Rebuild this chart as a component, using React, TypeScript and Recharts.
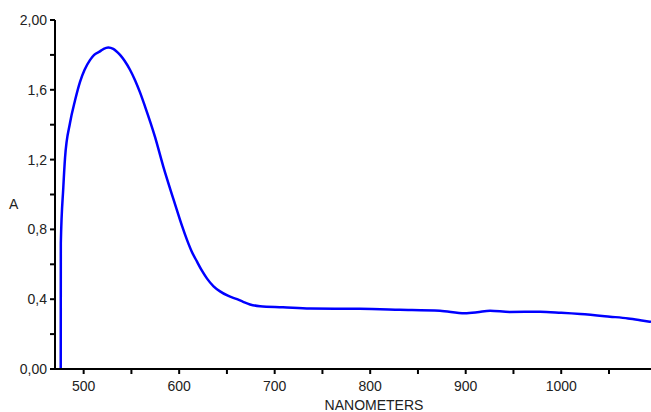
import React from 'react';
import { LineChart, Line, XAxis, YAxis, Label } from 'recharts';

const wavelengths = [476, 476.1, 478.7, 480.5, 485.7, 491, 496.2, 501, 506.6, 511, 517.1, 521, 525.8, 531, 538.1, 543, 548.5, 553.8, 559, 564.2, 574.7, 583.4, 593.9, 597.4, 603, 608.2, 613, 618.7, 624, 629.2, 636, 642.8, 651, 660.6, 667, 674.2, 684.7, 708.7, 737, 789, 831, 873, 899, 912, 925.5, 946, 978, 1000, 1020, 1051, 1070, 1082.6, 1094];
const absorbance = [0, 0.72, 1.04, 1.21, 1.41, 1.54, 1.646, 1.715, 1.77, 1.8, 1.82, 1.835, 1.843, 1.835, 1.80, 1.765, 1.715, 1.655, 1.585, 1.505, 1.33, 1.16, 0.975, 0.915, 0.82, 0.74, 0.675, 0.615, 0.562, 0.518, 0.474, 0.445, 0.42, 0.40, 0.385, 0.37, 0.36, 0.354, 0.346, 0.345, 0.34, 0.334, 0.32, 0.325, 0.334, 0.327, 0.328, 0.322, 0.315, 0.30, 0.29, 0.28, 0.27];

const xTicks = [500, 550, 600, 650, 700, 750, 800, 850, 900, 950, 1000, 1050];
const xTickLabels = ['500', '', '600', '', '700', '', '800', '', '900', '', '1000', ''];
const yTicks = [0, 0.2, 0.4, 0.6, 0.8, 1.0, 1.2, 1.4, 1.6, 1.8, 2.0];
const yTickLabels = ['0,00', '', '0,4', '', '0,8', '', '1,2', '', '1,6', '', '2,00'];

const data = wavelengths.map((nm, i) => ({ nm, a: absorbance[i] }));

const tickStyle = { fontFamily: 'Liberation Sans, Arial, sans-serif', fontSize: 14, fill: '#222' };

export default function App() {
  return (
    <div style={{ position: 'absolute', left: 0, top: 0 }}>
      <LineChart width={651} height={412} data={data} margin={{ top: 20, right: 0, left: 0, bottom: 0 }}>
        <XAxis
          type="number"
          dataKey="nm"
          domain={[470, 1094]}
          ticks={xTicks}
          tickFormatter={(v: number) => xTickLabels[xTicks.indexOf(v)] ?? ''}
          allowDataOverflow
          height={43}
          stroke="#000"
          strokeWidth={2}
          tickSize={5}
          tick={tickStyle}
          tickMargin={7}
          interval={0}
        >
          <Label value="NANOMETERS" position="insideBottom" offset={2} dx={21} style={{ ...tickStyle, fontSize: 14 }} />
        </XAxis>
        <YAxis
          type="number"
          domain={[0, 2]}
          ticks={yTicks}
          tickFormatter={(v: number) => {
            const idx = yTicks.findIndex((t) => Math.abs(t - v) < 1e-6);
            return idx >= 0 ? yTickLabels[idx] : '';
          }}
          width={55}
          stroke="#000"
          strokeWidth={2}
          tickSize={5}
          tick={tickStyle}
          tickMargin={3}
          interval={0}
        >
          <Label value="A" position="insideLeft" offset={9} dy={10} style={tickStyle} />
        </YAxis>
        <Line
          type="monotone"
          dataKey="a"
          stroke="#0000FF"
          strokeWidth={2.5}
          dot={false}
          isAnimationActive={false}
        />
      </LineChart>
    </div>
  );
}
